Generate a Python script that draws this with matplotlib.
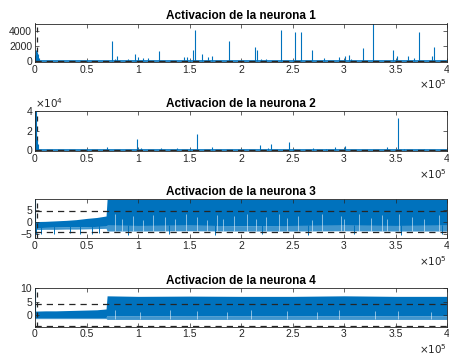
import matplotlib.pyplot as plt
from matplotlib.ticker import FuncFormatter

plt.rcParams['font.family'] = ['Liberation Sans', 'DejaVu Sans']

blue = '#0072BD'
dark = '#262626'

# eje x comun (muestras)
xticks = [0, 0.5e5, 1e5, 1.5e5, 2e5, 2.5e5, 3e5, 3.5e5, 4e5]
x_ini = 1600  # linea vertical discontinua

# neurona 1: picos de activacion
n1_x = [300, 800, 1200, 1800, 2200, 3000, 3800,
        0.75e5, 0.78e5, 0.80e5, 0.90e5, 0.97e5, 1.00e5, 1.05e5, 1.10e5, 1.20e5,
        1.45e5, 1.48e5, 1.53e5, 1.55e5, 1.62e5, 1.68e5, 1.72e5, 1.885e5,
        2.14e5, 2.16e5, 2.19e5, 2.24e5, 2.39e5, 2.52e5, 2.585e5, 2.69e5,
        2.81e5, 2.95e5, 3.01e5, 3.05e5, 3.07e5, 3.18e5, 3.28e5, 3.475e5,
        3.51e5, 3.62e5, 3.68e5, 3.725e5, 3.85e5, 3.87e5]
n1_y = [800, 1500, 700, 1200, 600, 900, 400,
        2700, 300, 600, 300, 900, 500, 400, 400, 1300,
        500, 500, 1400, 4100, 900, 500, 600, 2700,
        1800, 1500, 300, 200, 4100, 3800, 3900, 1500,
        400, 500, 600, 800, 300, 1700, 5000, 1400,
        600, 600, 400, 3900, 700, 1900]
n1_umbral = 0

# neurona 2: picos de activacion
n2_x = [300, 800, 1200, 1800, 2500, 0.70e5, 0.995e5, 1.03e5, 1.22e5, 1.38e5,
        1.57e5, 1.72e5, 2.18e5, 2.26e5, 2.29e5, 2.47e5, 2.7e5, 2.83e5,
        2.91e5, 3.01e5, 3.42e5, 3.52e5, 3.58e5, 3.78e5]
n2_y = [40000, 25000, 40000, 10000, 6000, 3000, 11000, 2000, 2000, 2000,
        16000, 3000, 5000, 2500, 6500, 8000, 2000, 1500,
        3000, 4000, 3000, 33000, 1500, 1000]
n2_umbral = 0

# neurona 3: envolventes de la senal
n3_x = [0, 0.1e5, 0.2e5, 0.3e5, 0.4e5, 0.5e5, 0.6e5, 0.69e5, 0.70e5,
        1e5, 1.5e5, 2e5, 2.5e5, 3e5, 3.5e5, 4e5]
n3_sup = [0.3, 0.4, 0.6, 0.8, 1.1, 1.6, 2.0, 2.6, 9.5,
          9.5, 9.5, 9.5, 9.5, 9.5, 9.5, 9.5]
n3_med = [-2.2, -2.1, -2.0, -1.9, -1.9, -1.8, -1.7, -1.6, -1.2,
          -1.3, -1.2, -1.4, -1.3, -1.2, -1.3, -1.2]
n3_inf = [-3.0, -2.9, -2.9, -2.8, -2.8, -2.7, -2.6, -2.5, -3.6,
          -3.6, -3.5, -3.6, -3.6, -3.5, -3.6, -3.6]
n3_hueco_x = [0.78e5, 0.84e5, 0.955e5, 1.05e5, 1.15e5, 1.26e5, 1.36e5, 1.47e5,
              1.57e5, 1.67e5, 1.77e5, 1.83e5, 1.93e5, 2.06e5, 2.15e5, 2.24e5,
              2.37e5, 2.45e5, 2.55e5, 2.69e5, 2.79e5, 2.97e5, 3.0e5, 3.15e5,
              3.26e5, 3.37e5, 3.42e5, 3.53e5, 3.66e5, 3.78e5, 3.92e5]
n3_hueco_y = [3.5, 1.5, 2.5, 1.0, 3.0, 2.0, 1.2, 3.6, 2.2, 1.0, 3.2, 1.5, 2.4,
              3.4, 1.2, 2.0, 3.5, 1.6, 2.8, 1.1, 3.3, 2.6, 1.4, 3.6, 1.8, 2.9,
              1.2, 3.4, 2.2, 1.5, 3.0]
n3_pico_x = [500, 0.06e5, 0.18e5, 0.34e5, 0.44e5, 0.55e5, 0.62e5,
             0.9e5, 1.3e5, 1.75e5, 2.2e5, 2.65e5, 3.1e5, 3.55e5, 3.95e5]
n3_pico_y = [-5.0, -4.8, -5.0, -4.6, -5.0, -4.8, -4.5,
             -5.2, -5.0, -5.3, -5.0, -5.2, -5.0, -5.3, -5.0]
n3_umbral = [4.7, -4.0]

# neurona 4: envolventes de la senal
n4_x = [0, 0.1e5, 0.2e5, 0.3e5, 0.4e5, 0.5e5, 0.6e5, 0.69e5, 0.70e5,
        1e5, 1.5e5, 2e5, 2.5e5, 3e5, 3.5e5, 4e5]
n4_sup = [1.5, 1.6, 1.6, 1.7, 1.8, 1.9, 2.0, 2.3, 7.2,
          7.0, 7.1, 7.0, 7.0, 7.2, 7.0, 7.0]
n4_med = [-0.9, -0.9, -0.9, -0.9, -0.9, -0.9, -0.9, -0.9, -0.2,
          -0.3, -0.2, -0.3, -0.2, -0.3, -0.2, -0.3]
n4_inf = [-1.3, -1.3, -1.3, -1.3, -1.3, -1.3, -1.3, -1.3, -1.6,
          -1.6, -1.6, -1.6, -1.6, -1.6, -1.6, -1.6]
n4_hueco_x = [0.78e5, 1.02e5, 1.31e5, 1.57e5, 1.86e5, 2.1e5, 2.45e5, 2.74e5,
              2.95e5, 3.3e5, 3.52e5, 3.84e5]
n4_hueco_y = [1.8, 1.2, 2.0, 1.4, 1.0, 1.9, 1.5, 1.2, 2.0, 1.4, 1.7, 1.1]
n4_umbral = [4.2, -4.1]

fig = plt.figure(figsize=(4.49, 3.58), dpi=100)
L, W = 35 / 449, 412 / 449
ax1 = fig.add_axes([L, 1 - 62 / 358, W, 38.5 / 358])
ax2 = fig.add_axes([L, 1 - 151 / 358, W, 40 / 358])
ax3 = fig.add_axes([L, 1 - 238.3 / 358, W, 39 / 358])
ax4 = fig.add_axes([L, 1 - 326.7 / 358, W, 38.4 / 358])

# neurona 1
ax1.axhline(n1_umbral, color=blue, lw=1.2)
ax1.vlines(n1_x, 0, n1_y, color=blue, lw=0.8)
ax1.axhline(n1_umbral, color=dark, lw=0.9, ls=(0, (5, 4)))
ax1.set_ylim(-150, 5000)
ax1.set_yticks([0, 2000, 4000])

# neurona 2
ax2.axhline(n2_umbral, color=blue, lw=1.2)
ax2.vlines(n2_x, 0, n2_y, color=blue, lw=0.8)
ax2.axhline(n2_umbral, color=dark, lw=0.9, ls=(0, (5, 4)))
ax2.set_ylim(-1000, 40000)
ax2.set_yticks([0, 20000, 40000])
ax2.yaxis.set_major_formatter(FuncFormatter(lambda v, p: f'{v / 1e4:g}'))
ax2.text(0.0, 1.02, r'$\times10^4$', transform=ax2.transAxes, ha='left',
         va='bottom', fontsize=7.5, color=dark)

# neurona 3
ax3.fill_between(n3_x, n3_med, n3_sup, color=blue, lw=0)
ax3.fill_between(n3_x, n3_inf, n3_med, color=blue, alpha=0.75, lw=0)
ax3.vlines(n3_hueco_x, -3.6, n3_hueco_y, color='white', lw=0.5, alpha=0.75)
ax3.vlines(n3_pico_x, -1.0, n3_pico_y, color=blue, lw=0.7)
ax3.vlines([300], -5.0, 9.5, color=blue, lw=0.8)
for u in n3_umbral:
    ax3.axhline(u, color=dark, lw=0.9, ls=(0, (5, 4)))
ax3.set_ylim(-6.6, 9.5)
ax3.set_yticks([-5, 0, 5])

# neurona 4
ax4.fill_between(n4_x, n4_med, n4_sup, color=blue, lw=0)
ax4.fill_between(n4_x, n4_inf, n4_med, color=blue, alpha=0.75, lw=0)
ax4.vlines(n4_hueco_x, -1.6, n4_hueco_y, color='white', lw=0.5, alpha=0.75)
ax4.vlines([300], -1.0, 10, color=blue, lw=0.8)
for u in n4_umbral:
    ax4.axhline(u, color=dark, lw=0.9, ls=(0, (5, 4)))
ax4.set_ylim(-4.3, 10)
ax4.set_yticks([0, 5, 10])

for i, ax in enumerate([ax1, ax2, ax3, ax4]):
    ax.axvline(x_ini, color=dark, lw=0.9, ls=(0, (4, 4)), zorder=1.5)
    ax.set_xlim(0, 4e5)
    ax.set_xticks(xticks)
    ax.xaxis.set_major_formatter(FuncFormatter(lambda v, p: f'{v / 1e5:g}'))
    ax.tick_params(direction='in', length=3, width=0.5, labelsize=7.5,
                   colors=dark, top=True, right=True, pad=2)
    for s in ax.spines.values():
        s.set_linewidth(0.6)
        s.set_color(dark)
    ax.set_title(f'Activacion de la neurona {i + 1}', fontsize=8.5,
                 fontweight='bold', color='black', pad=3)
    ax.text(1.0, -0.58, r'$\times10^5$', transform=ax.transAxes, ha='right',
            va='center', fontsize=7.5, color=dark)

fig.savefig('out.png', dpi=100)
